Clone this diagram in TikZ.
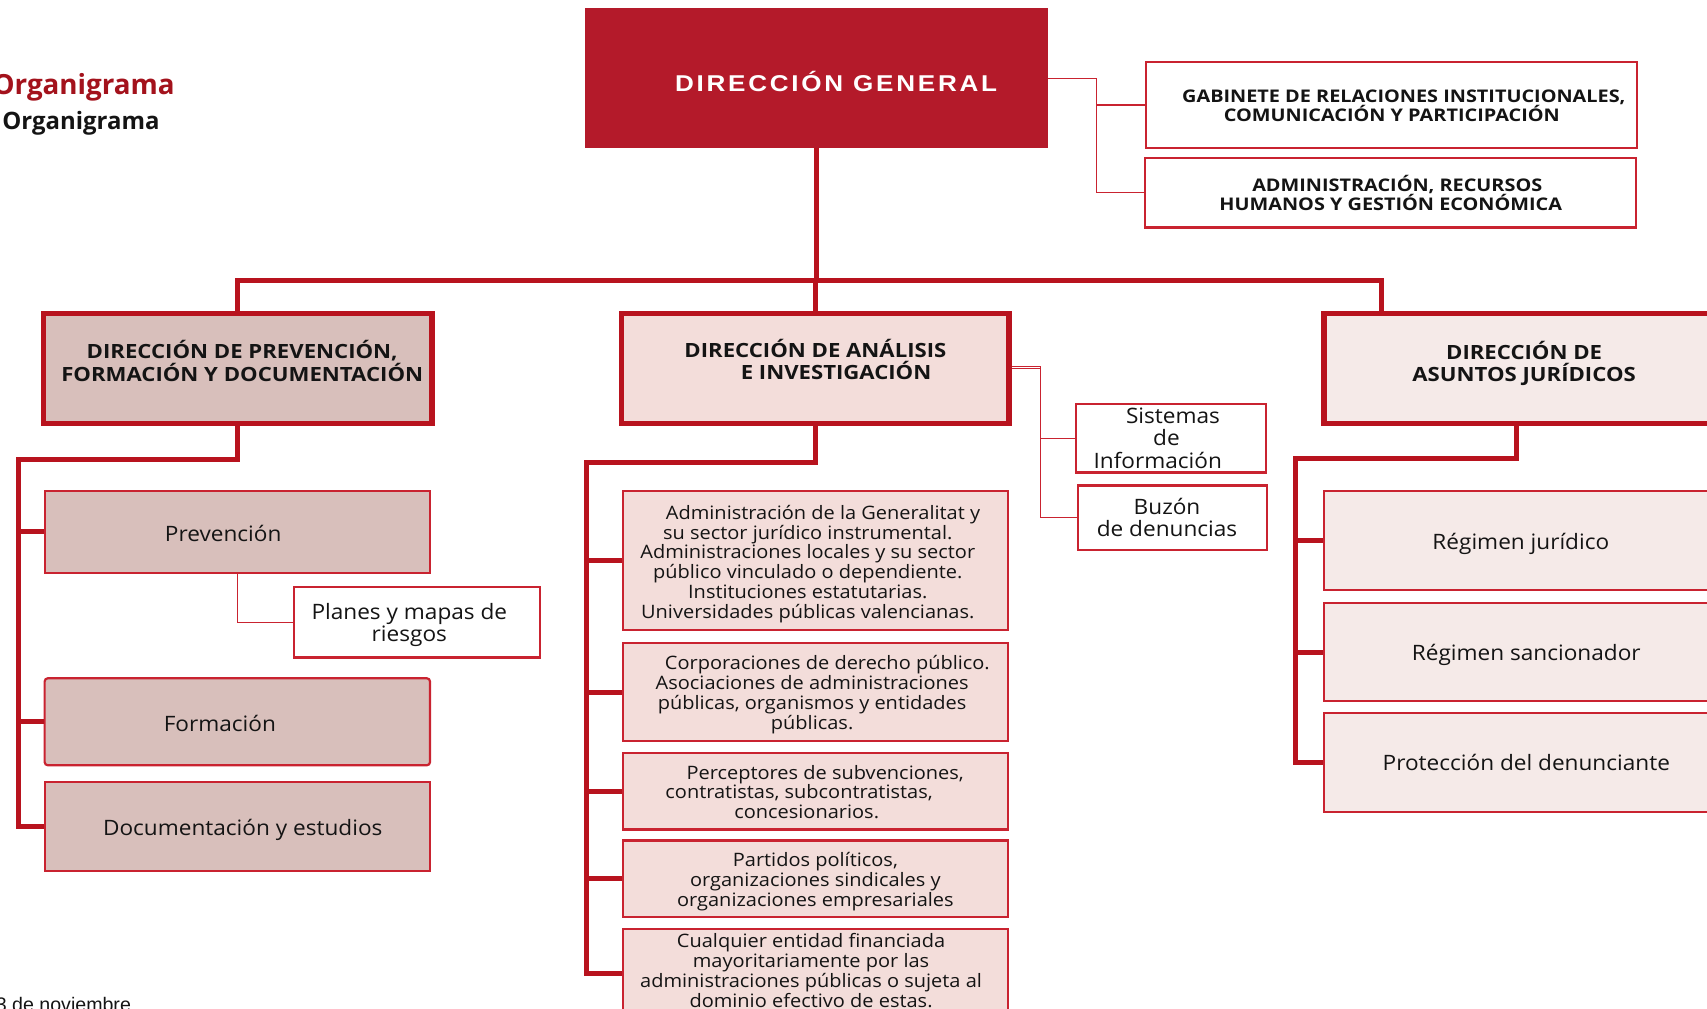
\documentclass[tikz,border=0pt]{standalone}
\usepackage{fontspec}
\setmainfont{Open Sans}
\newfontfamily\bodyA[FakeStretch=1.065]{Open Sans}
\newfontfamily\bodyB[FakeStretch=1.08]{Open Sans}
\newfontfamily\headf[FakeStretch=1.13]{Open Sans}
\newfontfamily\toph[FakeStretch=1.14]{Open Sans}
\newfontfamily\dgfont[LetterSpace=12,FakeStretch=1.14]{Liberation Sans}
\newfontfamily\datefont{Liberation Sans}
\usetikzlibrary{calc}
\definecolor{dgred}{HTML}{B41A2A}
\definecolor{linered}{HTML}{B8131E}
\definecolor{titlered}{HTML}{A3121C}
\definecolor{boxred}{HTML}{C92330}
\definecolor{fillA}{HTML}{D8BFBB}
\definecolor{fillB}{HTML}{F3DDDA}
\definecolor{fillC}{HTML}{F5EAE8}
\definecolor{txt}{HTML}{141414}
% a block of centred lines, shifted #1 right and #2 up, set #3 wide
\newcommand\mvtext[4]{\raisebox{#2}[\height][\depth]{\hspace*{#1}\parbox[c]{#3}{\lineskiplimit=-100pt\centering #4}\hspace*{-#1}}}
\begin{document}
\begin{tikzpicture}[x=1pt,y=-1pt,
  box/.style={draw=boxred, line width=2pt, inner sep=0pt, align=center, text=txt,
    font=\bodyA\fontsize{19.5}{20.5}\selectfont},
  smallbox/.style={box, font=\bodyB\fontsize{17}{18.2}\selectfont},
  head/.style={draw=linered, line width=5pt, inner sep=0pt, align=center, text=txt,
    font=\headf\fontsize{18}{20.5}\selectfont\bfseries},
  topbox/.style={draw=boxred, line width=2pt, inner sep=0pt, align=center, text=txt, fill=white,
    font=\toph\fontsize{16}{17.5}\selectfont\bfseries},
  bus/.style={draw=linered, line width=4.5pt, line join=miter},
  thinline/.style={draw=boxred, line width=1.2pt}]
\useasboundingbox (0,0) rectangle (1568,926);
\clip (0,0) rectangle (1568,926);

% titles
\node[anchor=west, inner sep=0pt, text=titlered, font=\fontsize{25.5}{28}\selectfont\bfseries] (t1) at (-7,80.5) {Organigrama};
\node[anchor=west, inner sep=0pt, text=txt, font=\fontsize{22}{24}\selectfont\bfseries] (t2) at (2,113.5) {Organigrama};
\node[anchor=north west, inner sep=0pt, text=txt, font=\datefont\fontsize{18}{20}\selectfont] (date) at (-4,916) {3 de noviembre};

% top
\node[fill=dgred, draw=dgred, line width=1pt, minimum width=424pt, minimum height=127pt, inner sep=0pt,
  text=white, font=\dgfont\fontsize{21}{24}\selectfont\bfseries] (dg) at (750,71.5)
  {\mvtext{18pt}{-3pt}{380pt}{DIRECCIÓN GENERAL}};
\node[topbox, minimum width=451pt, minimum height=79pt] (gab) at (1278.5,96.5)
  {\mvtext{0pt}{-1pt}{440pt}{\hspace*{22pt}GABINETE DE RELACIONES INSTITUCIONALES,\\COMUNICACIÓN Y PARTICIPACIÓN}};
\node[topbox, minimum width=451pt, minimum height=64pt] (adm) at (1277.5,177)
  {\mvtext{0pt}{0pt}{440pt}{\hspace*{12pt}ADMINISTRACIÓN, RECURSOS\\HUMANOS Y GESTIÓN ECONÓMICA}};

% level 2
\node[head, fill=fillA, minimum width=357pt, minimum height=101pt] (dpf) at (218.5,338.5)
  {\mvtext{4pt}{7pt}{345pt}{DIRECCIÓN DE PREVENCIÓN,\\FORMACIÓN Y DOCUMENTACIÓN}};
\node[head, fill=fillB, minimum width=356pt, minimum height=101pt] (dai) at (749,338.5)
  {\mvtext{0pt}{8pt}{340pt}{DIRECCIÓN DE ANÁLISIS\\\hspace*{38pt}E INVESTIGACIÓN}};
\node[head, fill=fillC, minimum width=368pt, minimum height=101pt] (daj) at (1400,338.5)
  {\mvtext{0pt}{4.5pt}{350pt}{DIRECCIÓN DE\\ASUNTOS JURÍDICOS}};

% left column
\node[box, fill=fillA, minimum width=354pt, minimum height=75pt] (prev) at (218,488.5)
  {\mvtext{-13pt}{-1.5pt}{300pt}{Prevención}};
\node[box, fill=white, minimum width=226pt, minimum height=65pt] (plan) at (383,571.5)
  {\mvtext{-7pt}{-2.5pt}{200pt}{Planes y mapas de\\riesgos}};
\node[box, fill=fillA, rounded corners=3pt, minimum width=354pt, minimum height=80pt] (form) at (218,663)
  {\mvtext{-16pt}{-2pt}{300pt}{Formación}};
\node[box, fill=fillA, minimum width=354pt, minimum height=82pt] (doc) at (218,759)
  {\mvtext{5pt}{-3pt}{320pt}{Documentación y estudios}};

% middle column
\node[smallbox, fill=fillB, minimum width=354pt, minimum height=128pt] (m1) at (749,515)
  {\mvtext{-7pt}{-3pt}{336pt}{\hspace*{28pt}Administración de la Generalitat y\\su sector jurídico instrumental.\\Administraciones locales y su sector\\público vinculado o dependiente.\\Instituciones estatutarias.\\Universidades públicas valencianas.}};
\node[smallbox, fill=fillB, minimum width=354pt, minimum height=90pt] (m2) at (749,636)
  {\mvtext{-3pt}{-2pt}{340pt}{\hspace*{28pt}Corporaciones de derecho público.\\Asociaciones de administraciones\\públicas, organismos y entidades\\públicas.}};
\node[smallbox, fill=fillB, minimum width=354pt, minimum height=70pt] (m3) at (749,727)
  {\mvtext{-8pt}{-0.5pt}{330pt}{\hspace*{34pt}Perceptores de subvenciones,\\\hspace*{-14pt}contratistas, subcontratistas,\\concesionarios.}};
\node[smallbox, fill=fillB, minimum width=354pt, minimum height=70pt] (m4) at (749,807)
  {\mvtext{0pt}{-3pt}{340pt}{Partidos políticos,\\organizaciones sindicales y\\organizaciones empresariales}};
\node[smallbox, fill=fillB, minimum width=354pt, minimum height=82pt] (m5) at (749,894)
  {\mvtext{-4pt}{2.5pt}{336pt}{Cualquier entidad financiada\\mayoritariamente por las\\administraciones públicas o sujeta al\\dominio efectivo de estas.}};

% side boxes of DAI
\node[box, fill=white, minimum width=175pt, minimum height=63pt] (sis) at (1075.5,402.5)
  {\mvtext{0pt}{0pt}{165pt}{\hspace*{4pt}Sistemas\\\hspace*{-8pt}de\\\hspace*{-24pt}Información}};
\node[box, fill=white, minimum width=174pt, minimum height=59pt] (buz) at (1077,475.5)
  {\mvtext{-5pt}{0pt}{160pt}{Buzón\\de denuncias}};

% right column
\node[box, fill=fillC, minimum width=368pt, minimum height=91pt] (rj) at (1400,496.5)
  {\mvtext{-3pt}{-3pt}{340pt}{Régimen jurídico}};
\node[box, fill=fillC, minimum width=368pt, minimum height=90pt] (rs) at (1400,599)
  {\mvtext{2pt}{-3pt}{340pt}{Régimen sancionador}};
\node[box, fill=fillC, minimum width=368pt, minimum height=91pt] (pd) at (1400,700.5)
  {\mvtext{2pt}{0pt}{340pt}{Protección del denunciante}};

% connectors: main
\coordinate (busL) at (218,258);
\coordinate (busR) at (1269,258);
\draw[bus] (dg.south) -- (dg.south |- busL);
\draw[bus] (dpf.north -| busL) -- (busL) -- (busR) -- (busR |- daj.north);
\draw[bus] (dai.north) -- (dai.north |- busL);

% DG side connectors
\coordinate (gx) at (1007,72);
\draw[thinline] (gx -| dg.east) -- (gx) |- (adm.west);
\draw[thinline] (gx |- gab.west) -- (gab.west);

% DPF bus
\coordinate (lb) at (17,422);
\draw[bus] (dpf.south) -- (dpf.south |- lb) -- (lb) -- (lb |- doc.west) -- (doc.west);
\draw[bus] (lb |- prev.west) -- (prev.west);
\draw[bus] (lb |- form.west) -- (form.west);
\draw[thinline] (prev.south) -- (prev.south |- plan.west) -- (plan.west);

% DAI bus
\coordinate (mb) at (539,425);
\draw[bus] (dai.south) -- (dai.south |- mb) -- (mb) -- (mb |- m5.west) -- (m5.west);
\foreach \n in {m1,m2,m3,m4} \draw[bus] (mb |- \n.west) -- (\n.west);

% DAI side
\coordinate (sx) at (956,337.5);
\draw[draw=boxred, line width=1pt, double=white, double distance=1.4pt] (sx -| dai.east) -- (sx);
\draw[thinline] (sx) |- (buz.west);
\draw[thinline] (sx |- sis.west) -- (sis.west);

% DAJ bus
\coordinate (rb) at (1190,421);
\coordinate (rd) at (1393,421);
\draw[bus] (rd |- daj.south) -- (rd) -- (rb) -- (rb |- pd.west) -- (pd.west);
\draw[bus] (rb |- rj.west) -- (rj.west);
\draw[bus] (rb |- rs.west) -- (rs.west);
\end{tikzpicture}
\end{document}
